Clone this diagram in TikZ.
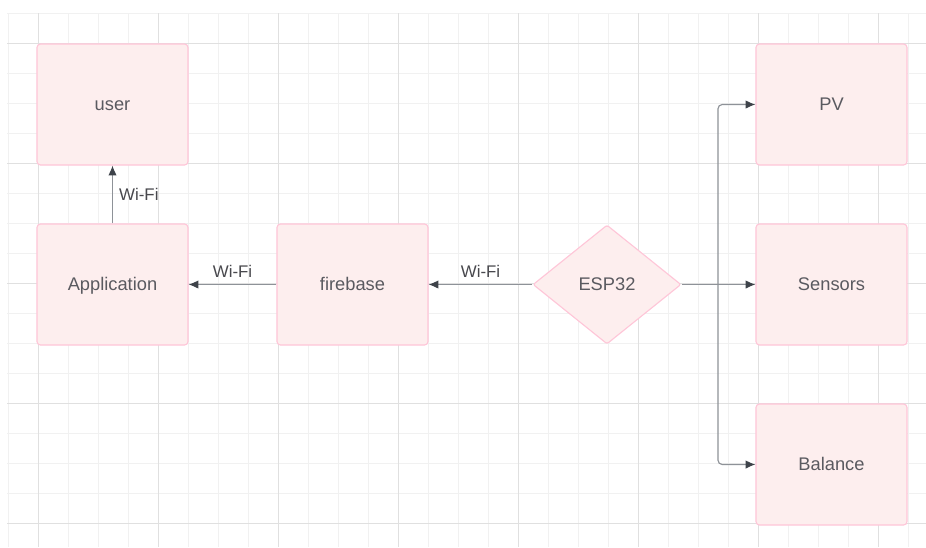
\documentclass[tikz,border=0pt]{standalone}
\usepackage{fontspec}
\setmainfont{Liberation Sans}
\usetikzlibrary{shapes.geometric, arrows.meta, positioning}
\definecolor{boxfill}{HTML}{FDEEEE}
\definecolor{boxline}{HTML}{FFC6D8}
\definecolor{textgray}{HTML}{5A5A60}
\definecolor{linegray}{HTML}{8E9298}
\definecolor{tipgray}{HTML}{3E434A}
\definecolor{gridminor}{HTML}{F1F1F1}
\definecolor{gridmajor}{HTML}{E0E0E0}

\begin{document}
\begin{tikzpicture}[x=0.025cm, y=-0.025cm,
        block/.style={rectangle, rounded corners=2.5pt, draw=boxline, fill=boxfill,
            line width=0.8pt, minimum width=3.775cm, minimum height=3.025cm,
            inner sep=0pt, text height=1.7ex, text depth=0.2ex,
            text=textgray, font=\fontsize{13}{15}\selectfont},
        decision/.style={diamond, rounded corners=1.5pt, draw=boxline, fill=boxfill,
            line width=0.8pt, minimum width=3.7cm, minimum height=2.975cm,
            inner sep=0pt, text height=1.7ex, text depth=0.2ex,
            text=textgray, font=\fontsize{13}{15}\selectfont},
        link/.style={draw=linegray, line width=0.8pt,
            -{Latex[length=7pt, width=6pt, color=tipgray]}},
        wifi/.style={text=textgray!80!black, font=\fontsize{12}{14}\selectfont}]
    \useasboundingbox[fill=white] (0,0) rectangle (926,547);
    % Background grid
    \foreach \x in {8,38,...,908}
        \draw[gridminor, line width=0.6pt] (\x,13) -- (\x,547);
    \foreach \y in {13,43,...,523}
        \draw[gridminor, line width=0.6pt] (7,\y) -- (926,\y);
    \foreach \x in {38,158,...,878}
        \draw[gridmajor, line width=0.7pt] (\x,13) -- (\x,547);
    \foreach \y in {43,163,...,523}
        \draw[gridmajor, line width=0.7pt] (7,\y) -- (926,\y);
    % Blocks
    \node[block] (user) at (112.5, 104.5) {user};
    \node[block] (app) at (112.5, 284.5) {Application};
    \node[block] (firebase) at (352.5, 284.5) {firebase};
    \node[decision] (esp) at (607, 284.5) {ESP32};
    \node[block] (pv) at (831.5, 104.5) {PV};
    \node[block] (sensors) at (831.5, 284.5) {Sensors};
    \node[block] (balance) at (831.5, 464.5) {Balance};
    % Wi-Fi links
    \draw[link] (app) -- node[wifi, right=1pt] {Wi-Fi} (user);
    \draw[link] (firebase) -- node[wifi, above=1pt] {Wi-Fi} (app);
    \draw[link] (esp) -- node[wifi, above=1pt] {Wi-Fi} (firebase);
    % ESP32 outputs
    \coordinate (split) at (718, 284.5);
    \draw[draw=linegray, line width=0.8pt] (esp.east) -- (split);
    \draw[link, rounded corners=3pt] (split) |- (pv);
    \draw[link] (split) -- (sensors);
    \draw[link, rounded corners=3pt] (split) |- (balance);
\end{tikzpicture}
\end{document}
